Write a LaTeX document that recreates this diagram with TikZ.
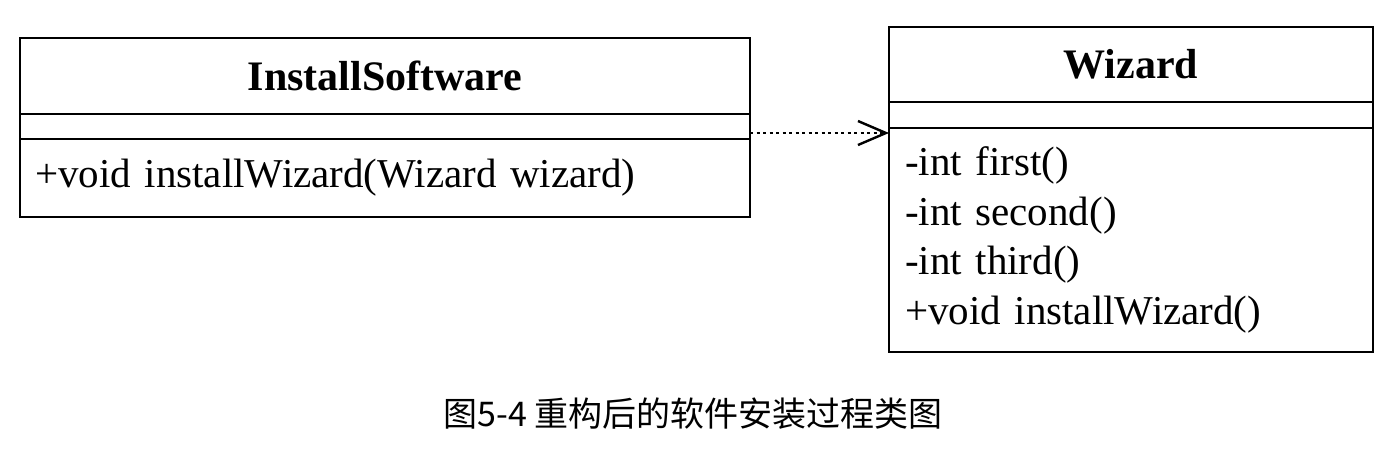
\documentclass[tikz,border=0pt]{standalone}
\usepackage{fontspec}
\setmainfont{Liberation Serif}
\newfontfamily\cjk{Noto Sans CJK SC}
\usetikzlibrary{arrows.meta,positioning}
\tikzset{
  part/.style={draw=black, line width=2.6pt, fill=white, outer sep=0pt, inner sep=0pt, font=\fontsize{41}{49.5}\selectfont},
  headpart/.style={part, font=\fontsize{42}{49.5}\selectfont\bfseries},
  oppart/.style={part, align=left},
  dependency/.style={-{Straight Barb[length=28pt,width=24pt]}, line width=2.4pt, dash pattern=on 3pt off 3.5pt},
  caption/.style={font=\cjk\fontsize{34}{40}\selectfont}
}
\begin{document}
\begin{tikzpicture}[x=1pt,y=-1pt]
\useasboundingbox (0,0) rectangle (1392,450);
% InstallSoftware
\node[headpart, anchor=north west, minimum width=730pt, minimum height=76pt] (instHead) at (20,38) {InstallSoftware};
\node[part, below=0pt of instHead, minimum width=730pt, minimum height=25pt] (instAttr) {};
\node[oppart, below=0pt of instAttr, minimum width=730pt, minimum height=78pt, text width=700pt, inner xsep=15pt] (instOps) {+void installWizard(Wizard wizard)};
% Wizard
\node[headpart, anchor=north west, minimum width=484pt, minimum height=75pt] (wizHead) at (889,27) {Wizard};
\node[part, below=0pt of wizHead, minimum width=484pt, minimum height=26pt] (wizAttr) {};
\node[oppart, below=0pt of wizAttr, minimum width=484pt, minimum height=224pt, text width=452pt, inner xsep=16pt] (wizOps) {-int first()\\-int second()\\-int third()\\+void installWizard()};
\coordinate (depStart) at ([yshift=-6.5pt]instAttr.east);
\draw[dependency] (depStart) -- (depStart -| wizOps.west);
\node[caption, anchor=base] (cap) at (693,426) {图5-4 重构后的软件安装过程类图};
\end{tikzpicture}
\end{document}
